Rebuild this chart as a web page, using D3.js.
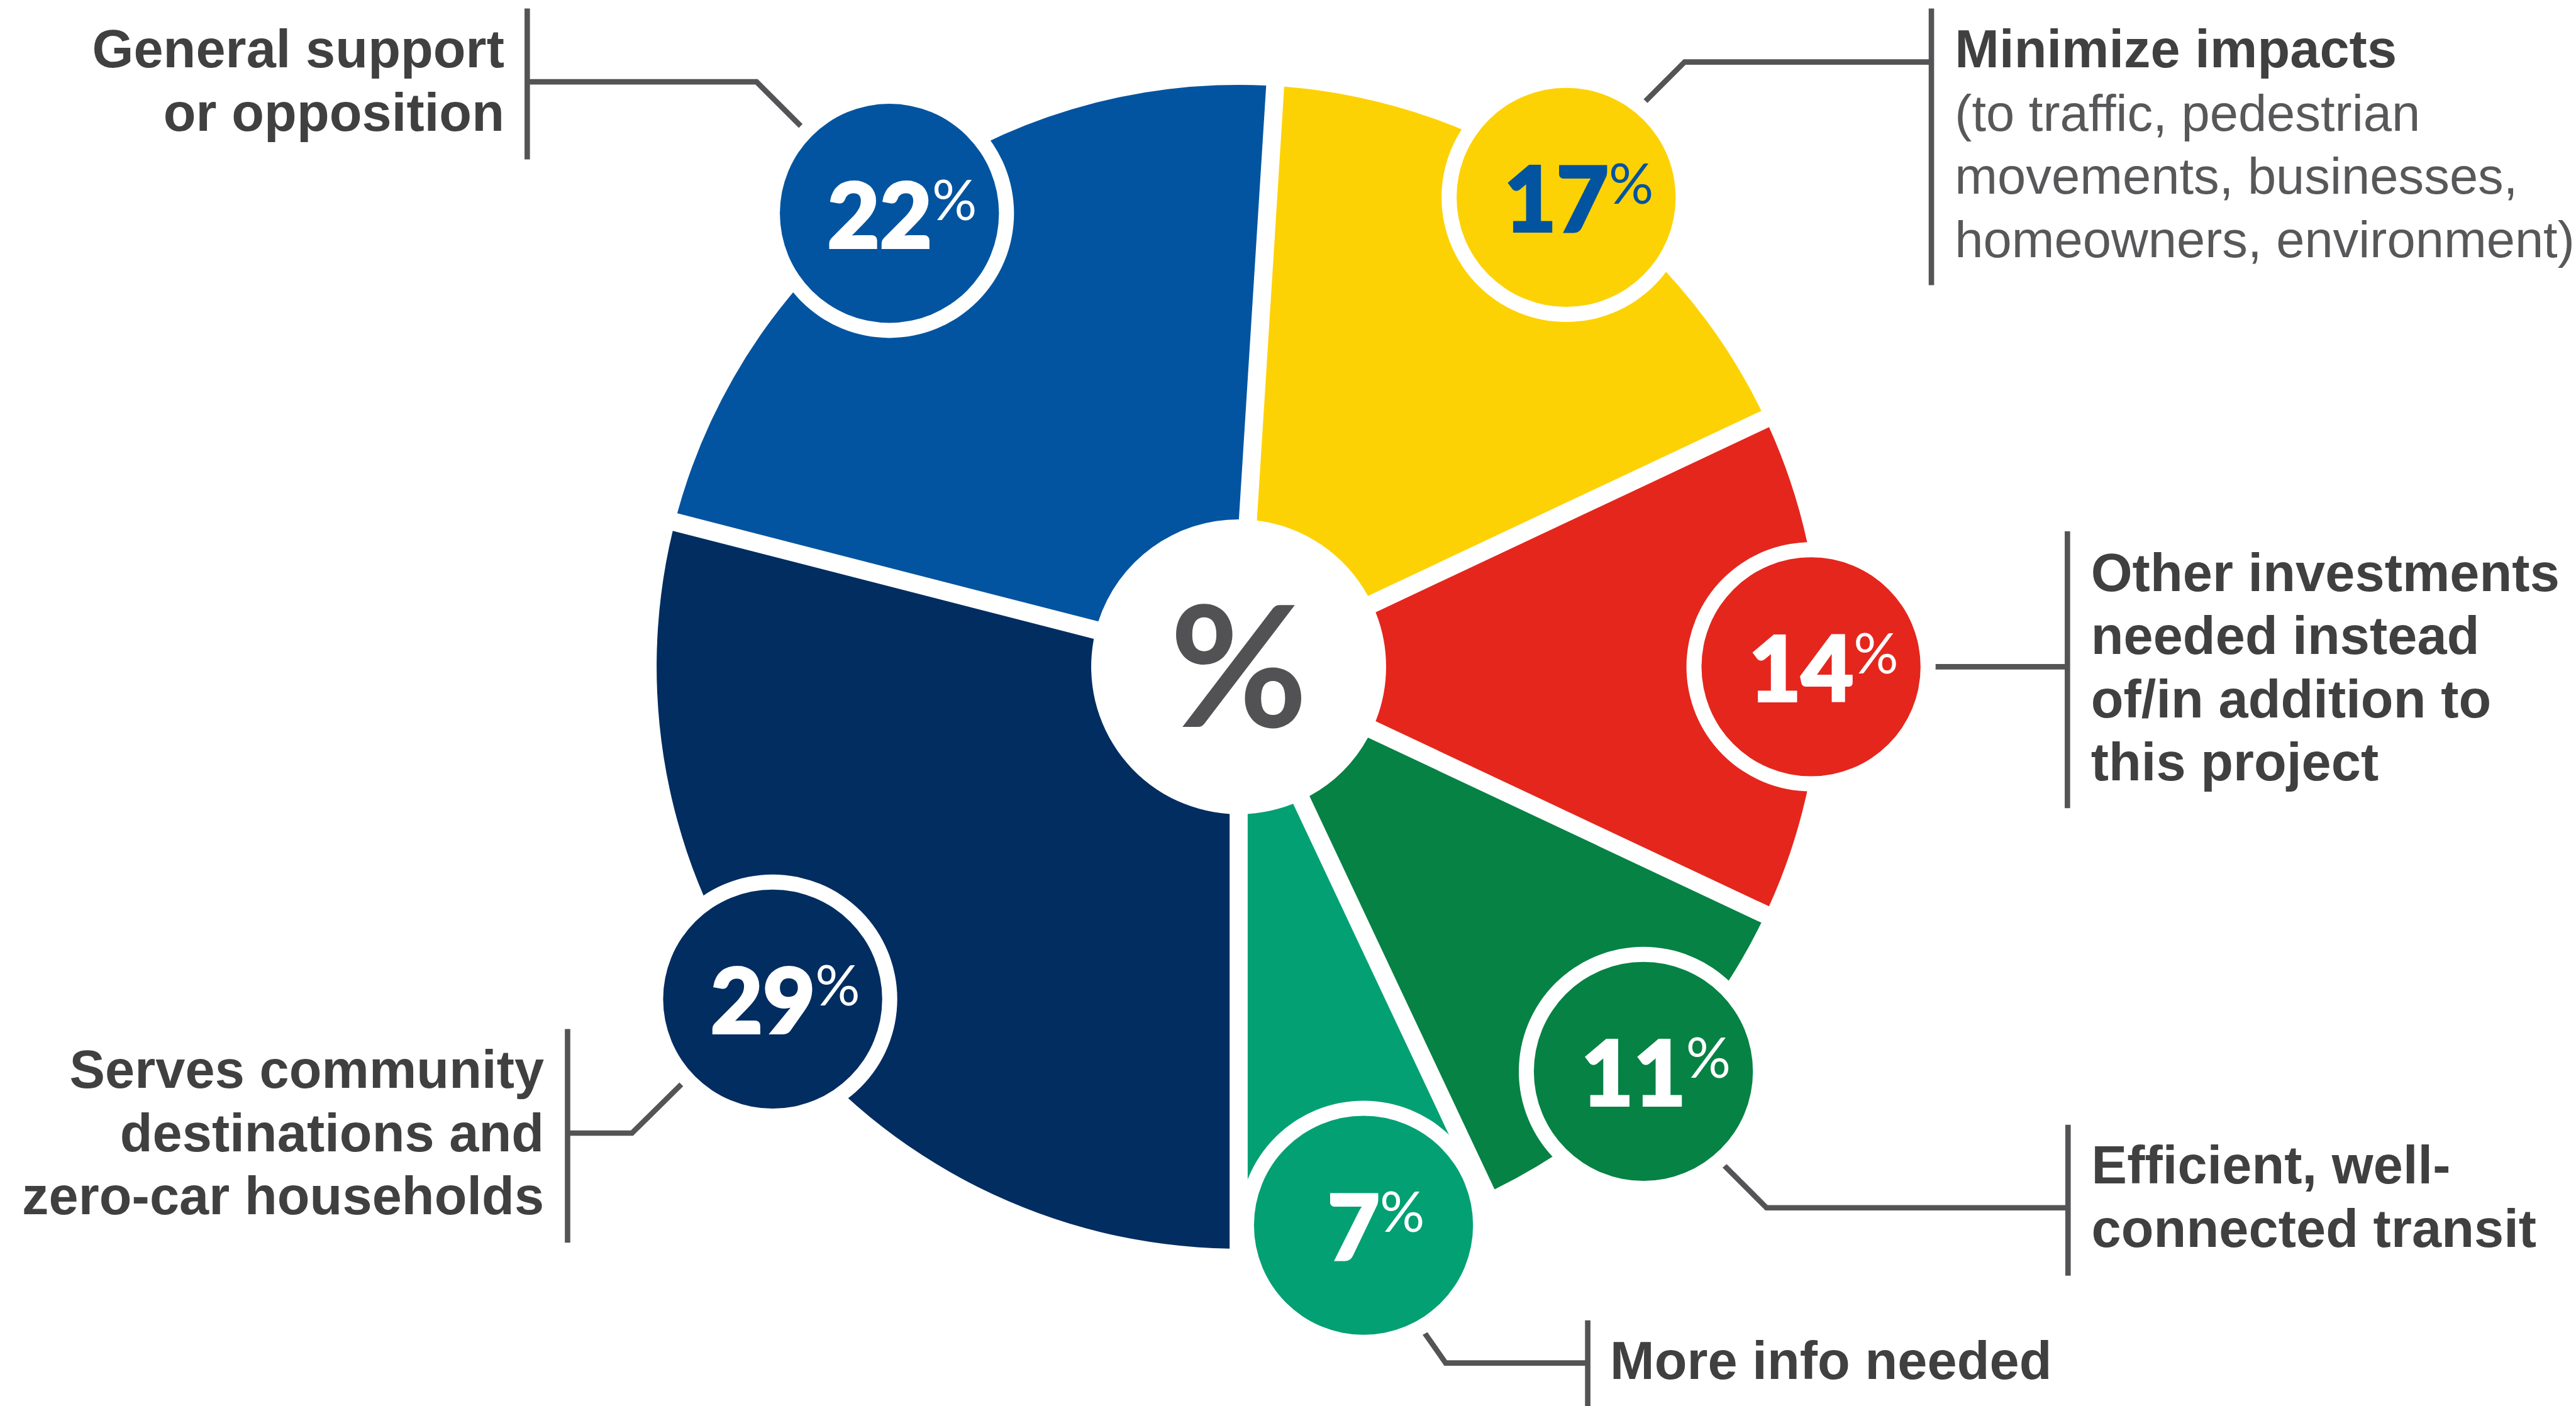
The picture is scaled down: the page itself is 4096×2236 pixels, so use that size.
<!DOCTYPE html>
<html lang="en">
<head>
  <meta charset="UTF-8">
  <title>Comment themes</title>
  <style>
    html, body { margin: 0; padding: 0; background: #fff; overflow: hidden; }
    svg { display: block; }
  </style>
</head>
<body>
  <script src="https://d3js.org/d3.v7.min.js"></script>
  <script>

    // share of comments by theme (%), clockwise from the top
    const themes = ['minimize', 'other', 'efficient', 'moreInfo', 'serves', 'general']
    const shares = [17, 14, 11, 7, 29, 22]
    const titleLines = [
      ['Minimize impacts'],
      ['Other investments', 'needed instead', 'of/in addition to', 'this project'],
      ['Efficient, well-', 'connected transit'],
      ['More info needed'],
      ['Serves community', 'destinations and', 'zero-car households'],
      ['General support', 'or opposition']
    ]
    const noteLines = [
      ['(to traffic, pedestrian', 'movements, businesses,', 'homeowners, environment)'],
      [], [], [], [], []
    ]

    const ds = themes.map((t, i) => ({ theme: t, share: shares[i], title: titleLines[i], note: noteLines[i] }))

    // layout, in reference pixels (4280 wide), scaled down to the window at the end
    const width = 4096
    const height = 2236
    const k = width / 4280
    const cx = 2058, cy = 1108
    const rOuter = 967, rInner = 245, gap = 30
    const bubbleDist = 951, bubbleR = 182, ringW = 25
    const lineH = 105

    const colors = d3.scaleOrdinal()
      .domain(themes)
      .range(['#fdd205', '#e5261d', '#068244', '#02a073', '#022d61', '#0254a0'])
    const numColor = d => d.data.theme === 'minimize' ? '#0254a0' : '#ffffff'
    const nudge = { serves: 2.3, general: -1.6, minimize: 0.7 } // degrees

    const callouts = {
      minimize:  { bx: 3209, by: [14, 474],    pts: [[3209, 103], [2799, 103], [2734, 168]],  tx: 3248, ty: 112,  anchor: 'start' },
      other:     { bx: 3435, by: [883, 1343],  pts: [[3435, 1108], [3215, 1108]],             tx: 3474, ty: 982,  anchor: 'start' },
      efficient: { bx: 3436, by: [1869, 2120], pts: [[3436, 2007], [2935, 2007], [2865, 1937]], tx: 3475, ty: 1967, anchor: 'start' },
      moreInfo:  { bx: 2638, by: [2194, 2340], pts: [[2638, 2265], [2402, 2265], [2348, 2188]], tx: 2675, ty: 2291, anchor: 'start' },
      serves:    { bx: 943,  by: [1710, 2065], pts: [[943, 1883], [1050, 1883], [1132, 1802]],  tx: 904,  ty: 1808, anchor: 'end' },
      general:   { bx: 876,  by: [14, 265],    pts: [[876, 136], [1257, 136], [1331, 210]],     tx: 838,  ty: 112,  anchor: 'end' }
    }

    const svg = d3.select('body')
      .append('svg')
      .attr('width', width)
      .attr('height', height)

    const root = svg.append('g')
      .attr('transform', `scale(${k})`)

    // leader lines and brackets
    const lineColor = '#545456'
    const calls = root.append('g').attr('id', 'callouts')
    ds.forEach(d => {
      const c = callouts[d.theme]
      calls.append('line')
        .attr('x1', c.bx).attr('x2', c.bx)
        .attr('y1', c.by[0]).attr('y2', c.by[1])
        .attr('stroke', lineColor)
        .attr('stroke-width', 9)
      calls.append('path')
        .attr('d', d3.line()(c.pts))
        .attr('fill', 'none')
        .attr('stroke', lineColor)
        .attr('stroke-width', 9)
        .attr('stroke-linejoin', 'miter')

      const txt = calls.append('text')
        .attr('text-anchor', c.anchor)
        .attr('font-family', '"Liberation Sans", Arial, Helvetica, sans-serif')
      d.title.forEach((s, i) => {
        txt.append('tspan')
          .attr('x', c.tx)
          .attr('y', c.ty + i * lineH)
          .attr('font-size', 88.5)
          .attr('letter-spacing', 0.1)
          .attr('font-weight', 700)
          .attr('fill', '#404040')
          .text(s)
      })
      d.note.forEach((s, i) => {
        txt.append('tspan')
          .attr('x', c.tx)
          .attr('y', c.ty + (d.title.length + i) * lineH)
          .attr('font-size', 85)
          .attr('font-weight', 400)
          .attr('fill', '#58585a')
          .text(s)
      })
    })

    // the ring
    const pie = d3.pie()
      .sort(null)
      .value(d => d.share)
      .startAngle(Math.PI * 0.02)
      .endAngle(Math.PI * 2.02)

    const arc = d3.arc()
      .innerRadius(rInner)
      .outerRadius(rOuter)
      .padAngle(gap / rOuter)
      .padRadius(rOuter)

    const arcs = pie(ds)

    const g = root.append('g')
      .attr('id', 'pie')
      .attr('transform', `translate(${cx}, ${cy})`)

    g.selectAll('path')
      .data(arcs)
      .join('path')
      .attr('d', arc)
      .attr('fill', d => colors(d.data.theme))

    // value bubbles on the rim
    const bubblePos = d => {
      const a = (d.startAngle + d.endAngle) / 2 + (nudge[d.data.theme] || 0) * Math.PI / 180
      return [bubbleDist * Math.sin(a), -bubbleDist * Math.cos(a)]
    }

    const bubbles = g.selectAll('g.bubble')
      .data(arcs)
      .join('g')
      .attr('class', 'bubble')
      .attr('transform', d => `translate(${bubblePos(d)})`)

    bubbles.append('circle')
      .attr('r', bubbleR + ringW)
      .attr('fill', '#ffffff')
    bubbles.append('circle')
      .attr('r', bubbleR)
      .attr('fill', d => colors(d.data.theme))

    const num = bubbles.append('text')
      .attr('x', 21)
      .attr('y', 57)
      .attr('text-anchor', 'middle')
      .attr('font-family', 'Lato, "Open Sans", sans-serif')
      .attr('fill', numColor)
    num.append('tspan')
      .attr('font-size', 150)
      .attr('font-weight', 900)
      .attr('stroke', numColor)
      .attr('stroke-width', 4)
      .text(d => d.data.share)
    num.append('tspan')
      .attr('font-size', 93)
      .attr('font-weight', 400)
      .attr('dx', 0)
      .attr('dy', -46)
      .text('%')

    // centre symbol
    g.append('text')
      .attr('x', 0)
      .attr('y', 100)
      .attr('text-anchor', 'middle')
      .attr('font-family', 'Lato, "Open Sans", sans-serif')
      .attr('font-size', 280)
      .attr('font-weight', 700)
      .attr('fill', '#525254')
      .text('%')

  </script>
</body>
</html>
